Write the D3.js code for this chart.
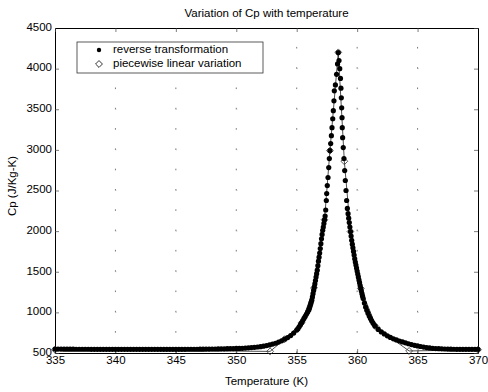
<!DOCTYPE html>
<html>
<head>
<meta charset="utf-8">
<script src="https://cdn.jsdelivr.net/npm/d3@7"></script>
<style>
  body { margin: 0; background: #fff; }
  svg { display: block; font-family: "Liberation Sans", Arial, sans-serif; }
</style>
</head>
<body>
<div id="chart"></div>
<script>
// reverse transformation (dots)
const reverseT = [
  335, 335.25, 335.5, 335.75, 336, 336.25, 336.5, 336.75, 337, 337.25, 337.5, 337.75,
  338, 338.25, 338.5, 338.75, 339, 339.25, 339.5, 339.75, 340, 340.25, 340.5, 340.75,
  341, 341.25, 341.5, 341.75, 342, 342.25, 342.5, 342.75, 343, 343.25, 343.5, 343.75,
  344, 344.25, 344.5, 344.75, 345, 345.25, 345.5, 345.75, 346, 346.25, 346.5, 346.75,
  347, 347.25, 347.5, 347.75, 348, 348.25, 348.5, 348.75, 349, 349.25, 349.5, 349.75, 350,
  350.25, 350.5, 350.75, 351, 351.25, 351.5, 351.75, 352, 352.25, 352.5, 352.75, 353,
  353.25, 353.5, 353.75, 354, 354.25, 354.5, 354.75, 355,
  355.1, 355.2, 355.3, 355.4, 355.5, 355.6, 355.7, 355.8, 355.9, 356,
  356.05, 356.1, 356.15, 356.2, 356.25, 356.3, 356.35, 356.4, 356.45, 356.5,
  356.55, 356.6, 356.65, 356.7, 356.75, 356.8, 356.85, 356.9, 356.95, 357,
  357.05, 357.1, 357.15, 357.2, 357.25, 357.3, 357.35, 357.4,
  357.45, 357.48, 357.53, 357.59, 357.65, 357.7, 357.75, 357.81, 357.87, 357.92,
  357.98, 358.03, 358.08, 358.11, 358.2, 358.3, 358.38, 358.44,
  358.5, 358.56, 358.62, 358.66, 358.69, 358.72, 358.75, 358.77, 358.8, 358.85,
  358.91, 358.97, 359.02, 359.08, 359.13, 359.19,
  359.25, 359.3, 359.35, 359.4, 359.45, 359.5, 359.55, 359.6, 359.65, 359.7,
  359.75, 359.8, 359.85, 359.9, 359.95, 360, 360.05, 360.1, 360.15, 360.2,
  360.25, 360.3, 360.35, 360.4, 360.45, 360.5,
  360.6, 360.7, 360.8, 360.9, 361, 361.1, 361.2, 361.3, 361.4, 361.5,
  361.75, 362, 362.25, 362.5, 362.75, 363, 363.25, 363.5, 363.75, 364,
  364.25, 364.5, 364.75, 365, 365.25, 365.5, 365.75, 366, 366.25, 366.5,
  366.75, 367, 367.25, 367.5, 367.75, 368, 368.25, 368.5, 368.75, 369,
  369.25, 369.5, 369.75, 370
];
const reverseCp = [
  548, 548, 548, 547, 547, 547, 547, 546, 546, 546, 546, 546,
  545, 545, 545, 545, 545, 545, 545, 545, 545, 545, 545, 545,
  545, 545, 545, 545, 545, 545, 545, 545, 545, 545, 545, 545,
  545, 545, 545, 545, 545, 545, 545, 545, 546, 546, 546, 546,
  547, 547, 548, 548, 549, 549, 550, 551, 552, 553, 554, 555, 556,
  556, 558, 561, 564, 567, 570, 574, 578, 584, 592, 600, 610,
  620, 634, 650, 670, 690, 715, 745, 782,
  800, 822, 846, 872, 900, 925, 950, 977, 1003, 1030,
  1050, 1075, 1100, 1125, 1150, 1190, 1230, 1270, 1310, 1350,
  1392, 1434, 1476, 1520, 1575, 1630, 1680, 1730, 1785, 1845,
  1905, 1960, 2010, 2050, 2095, 2140, 2185, 2260,
  2377, 2463, 2561, 2660, 2782, 2893, 2991, 3077, 3175, 3273,
  3383, 3482, 3604, 3727, 3800, 3930, 4058, 4197,
  4100, 4000, 3880, 3760, 3641, 3518, 3396, 3273, 3150, 3028,
  2893, 2745, 2623, 2500, 2377, 2279,
  2215, 2160, 2105, 2050, 1995, 1940, 1887, 1840, 1795, 1750,
  1705, 1660, 1620, 1582, 1545, 1508, 1472, 1436, 1400, 1365,
  1330, 1295, 1262, 1230, 1200, 1170,
  1115, 1065, 1025, 990, 955, 925, 897, 872, 850, 830,
  790, 760, 735, 712, 692, 675, 661, 648, 636, 625,
  614, 604, 595, 587, 580, 573, 567, 562, 558, 555,
  553, 551, 549, 548, 547, 546, 545, 545, 545, 545,
  545, 545, 545, 545
];

// piecewise linear variation (diamonds)
const pieceT  = [335, 352.8, 354.0, 355.4, 356.43, 357.3, 357.75, 358.44, 358.94, 359.45, 360.3, 361.6, 364.3, 370];
const pieceCp = [540, 520, 670, 872, 1300, 2140, 2991, 4200, 2860, 1995, 1295, 815, 525, 540];

const xTicks = [335, 340, 345, 350, 355, 360, 365, 370];
const yTicks = [500, 1000, 1500, 2000, 2500, 3000, 3500, 4000, 4500];
const legendLabels = ["reverse transformation", "piecewise linear variation"];

const W = 488, H = 392;
const margin = { top: 28, right: 10, bottom: 39, left: 55 };
const iw = W - margin.left - margin.right;
const ih = H - margin.top - margin.bottom;

const svg = d3.select("#chart").append("svg")
  .attr("width", W).attr("height", H);

const x = d3.scaleLinear().domain([335, 370]).range([0, iw]);
const y = d3.scaleLinear().domain([500, 4500]).range([ih, 0]);

const g = svg.append("g").attr("transform", `translate(${margin.left},${margin.top})`);

// dotted grid (only the vertical dots survive in the scan, mostly)
g.append("g").selectAll("line")
  .data(xTicks.slice(1, -1))
  .enter().append("line")
  .attr("x1", d => x(d)).attr("x2", d => x(d))
  .attr("y1", ih).attr("y2", 0)
  .attr("stroke", "#555").attr("stroke-width", 0.8)
  .attr("stroke-dasharray", "1.6,18.7");

g.append("g").selectAll("line")
  .data(yTicks.slice(1, -1))
  .enter().append("line")
  .attr("x1", 0).attr("x2", iw)
  .attr("y1", d => y(d)).attr("y2", d => y(d))
  .attr("stroke", "#bbb").attr("stroke-width", 0.6)
  .attr("stroke-dasharray", "1,59.5");

// axes with inward ticks
const fmt = d3.format("d");
g.append("g").attr("transform", `translate(0,${ih})`)
  .call(d3.axisBottom(x).tickValues(xTicks).tickFormat(fmt)
    .tickSizeInner(-4).tickSizeOuter(0).tickPadding(3));
g.append("g")
  .call(d3.axisLeft(y).tickValues(yTicks).tickFormat(fmt)
    .tickSizeInner(-4).tickSizeOuter(0).tickPadding(3))
  .selectAll(".tick text").attr("dy", "0.2em");
g.append("g")
  .call(d3.axisTop(x).tickValues(xTicks).tickSizeInner(-4).tickSizeOuter(0).tickFormat(""));
g.append("g").attr("transform", `translate(${iw},0)`)
  .call(d3.axisRight(y).tickValues(yTicks).tickSizeInner(-4).tickSizeOuter(0).tickFormat(""));

g.selectAll(".domain").attr("stroke", "#000").attr("stroke-width", 1);
g.selectAll(".tick line").attr("stroke", "#444").attr("stroke-width", 0.7);
g.selectAll(".tick text").attr("font-size", 11.5).attr("fill", "#000")
  .attr("font-family", "'Liberation Sans', Arial, sans-serif");

// piecewise linear line + diamonds
const line = d3.line().x(d => x(d[0])).y(d => y(d[1]));
const piece = pieceT.map((t, i) => [t, pieceCp[i]]);
g.append("path").datum(piece)
  .attr("d", line).attr("fill", "none")
  .attr("stroke", "#222").attr("stroke-width", 0.8);

const diamond = d3.symbol().type(d3.symbolDiamond2).size(30);
g.append("g").selectAll("path")
  .data(piece)
  .enter().append("path")
  .attr("d", diamond)
  .attr("transform", d => `translate(${x(d[0])},${y(d[1])})`)
  .attr("fill", "none").attr("stroke", "#333").attr("stroke-width", 0.8);

// reverse transformation dots
const rev = reverseT.map((t, i) => [t, reverseCp[i]]);
g.append("g").selectAll("circle")
  .data(rev)
  .enter().append("circle")
  .attr("cx", d => x(d[0])).attr("cy", d => y(d[1]))
  .attr("r", 2.6).attr("fill", "#000");

// legend
const lg = svg.append("g").attr("transform", "translate(77,42)");
lg.append("rect").attr("width", 186).attr("height", 31)
  .attr("fill", "#fff").attr("stroke", "#333").attr("stroke-width", 0.8);
lg.append("circle").attr("cx", 22).attr("cy", 8).attr("r", 2.2).attr("fill", "#000");
lg.append("path").attr("d", diamond).attr("transform", "translate(22,22)")
  .attr("fill", "none").attr("stroke", "#000").attr("stroke-width", 0.8);
lg.selectAll("text")
  .data(legendLabels)
  .enter().append("text")
  .attr("x", 36).attr("y", (d, i) => 11 + i * 14)
  .attr("font-size", 11.5).text(d => d);

// title and axis labels
svg.append("text").attr("x", margin.left + iw / 2).attr("y", 17)
  .attr("text-anchor", "middle").attr("font-size", 11.5)
  .text("Variation of Cp with temperature");
svg.append("text").attr("x", margin.left + iw / 2).attr("y", 385)
  .attr("text-anchor", "middle").attr("font-size", 11.5)
  .text("Temperature (K)");
svg.append("text")
  .attr("transform", "translate(16,186) rotate(-90)")
  .attr("text-anchor", "middle").attr("font-size", 11.5)
  .text("Cp (J/Kg-K)");
</script>
</body>
</html>
